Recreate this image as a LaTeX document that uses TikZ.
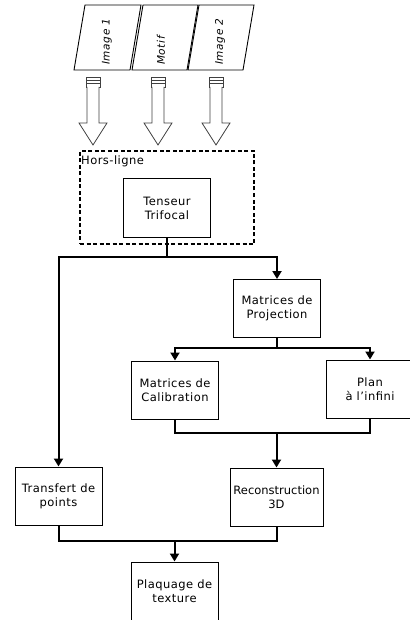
\documentclass[tikz,border=0pt]{standalone}
\usepackage{fontspec}
\setmainfont{DejaVu Sans}
\newfontfamily\boxfont{DejaVu Sans}[LetterSpace=4]
\newfontfamily\tightfont{DejaVu Sans}[LetterSpace=0]
\newfontfamily\parafont{DejaVu Sans}[LetterSpace=6]
\usetikzlibrary{arrows.meta}
\begin{document}
\begin{tikzpicture}[x=1pt,y=-1pt,
  box/.style={draw, line width=1pt, minimum width=87pt, minimum height=58pt, align=center, inner sep=1pt, font=\boxfont\fontsize{11.5}{14}\selectfont},
  conn/.style={line width=2pt},
  arr/.style={conn, -{Triangle[length=8pt,width=9pt]}},
  para/.style={draw, line width=0.9pt},
  ptext/.style={rotate=90, anchor=west, inner sep=0pt, font=\parafont\itshape\fontsize{10.5}{12}\selectfont},
  barrow/.style={draw=black!75, line width=0.8pt, fill=white}
]
\useasboundingbox (0,0) rectangle (409,620);

% source parallelograms
\draw[para] (74,70) -- (130,70) -- (141,5) -- (85,5) -- cycle;
\draw[para] (132,70) -- (187,70) -- (198,5) -- (143,5) -- cycle;
\draw[para] (188,70) -- (243,70) -- (254,5) -- (199,5) -- cycle;
\node[ptext] (im1) at (107,65) {Image 1};
\node[ptext] (mot) at (161,65) {Motif};
\node[ptext] (im2) at (220,65) {Image 2};

% block arrows
\foreach \c in {93,158,216} {
  \draw[barrow] ({\c-7},77) rectangle ({\c+7},87);
  \draw[draw=black!75, line width=0.8pt] ({\c-7},80.3) -- ({\c+7},80.3);
  \draw[draw=black!75, line width=0.8pt] ({\c-7},83.6) -- ({\c+7},83.6);
  \draw[barrow] ({\c-6},87) -- ({\c-6},123) -- ({\c-14},123) -- (\c,145) -- ({\c+14},123) -- ({\c+6},123) -- ({\c+6},87);
}

% offline group
\node[draw, line width=1.6pt, dash pattern=on 4pt off 2.5pt, minimum width=174pt, minimum height=93pt, inner sep=0pt] (off) at (167,197.5) {};
\node[anchor=north west, inner sep=0pt, font=\boxfont\fontsize{11.5}{14}\selectfont] (hl) at (81,156) {Hors-ligne};

% process boxes
\node[box] (tens) at (167,208) {Tenseur\\Trifocal};
\node[box] (proj) at (277,308.5) {Matrices de\\Projection};
\node[box] (calib) at (175,390) {Matrices de\\Calibration};
\node[box] (plan) at (370,389) {Plan\\à l’infini};
\node[box] (trans) at (58.5,496) {Transfert de\\points};
\node[box, minimum width=93pt, font=\tightfont\fontsize{11.5}{14}\selectfont] (recon) at (276.5,497) {Reconstruction\\3D};
\node[box] (plaq) at (174.5,591) {Plaquage de\\texture};

% connectors
\coordinate (j1) at (167,257);
\draw[conn] (tens.south) -- (j1);
\draw[arr] (j1) -| (trans.north);
\draw[arr] (j1) -| (proj.north);

\coordinate (j2) at (277,348);
\draw[conn] (proj.south) -- (j2);
\draw[arr] (j2) -| (calib.north);
\draw[arr] (j2) -| (plan.north);

\coordinate (j3) at (276.5,433);
\draw[conn] (calib.south) |- (j3);
\draw[conn] (plan.south) |- (j3);
\draw[arr] (j3) -- (recon.north);

\coordinate (j4) at (174.5,541);
\draw[conn] (trans.south) |- (j4);
\draw[conn] (recon.south) |- (j4);
\draw[arr] (j4) -- (plaq.north);
\end{tikzpicture}
\end{document}
